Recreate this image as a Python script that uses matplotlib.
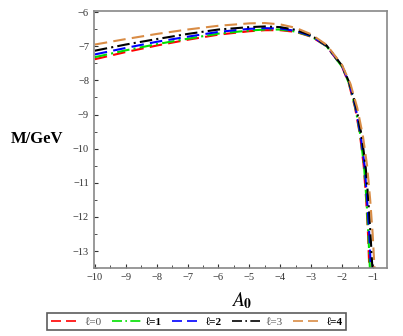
import matplotlib
matplotlib.use("Agg")
import matplotlib.pyplot as plt
from matplotlib.ticker import MultipleLocator

plt.rcParams['mathtext.fontset'] = 'stix'

# shared part of the curves
A_head = [-10, -9, -8, -7, -6, -5, -4.5, -4, -3.5, -3, -2.5, -2]
M_l0 = [-7.38, -7.17, -6.98, -6.81, -6.66, -6.56, -6.53, -6.53, -6.58, -6.72, -7.0, -7.6]
M_l1 = [-7.32, -7.12, -6.94, -6.78, -6.63, -6.54, -6.51, -6.51, -6.57, -6.71, -7.0, -7.6]
M_l2 = [-7.24, -7.05, -6.87, -6.72, -6.58, -6.49, -6.47, -6.48, -6.55, -6.70, -6.99, -7.58]
M_l3 = [-7.13, -6.95, -6.79, -6.64, -6.51, -6.44, -6.42, -6.44, -6.52, -6.68, -6.98, -7.57]
M_l4 = [-6.95, -6.79, -6.64, -6.51, -6.40, -6.33, -6.32, -6.36, -6.46, -6.65, -6.96, -7.55]

# steep tail: M values and the A0 where each curve reaches them
M_tail = [-8.1, -8.8, -9.6, -10.5, -11.5, -12.5, -13.5]
A_tail_l0 = [-1.78, -1.58, -1.42, -1.30, -1.22, -1.16, -1.12]
A_tail_l1 = [-1.77, -1.57, -1.41, -1.29, -1.21, -1.15, -1.10]
A_tail_l2 = [-1.76, -1.56, -1.40, -1.27, -1.19, -1.12, -1.07]
A_tail_l3 = [-1.75, -1.54, -1.37, -1.24, -1.15, -1.08, -1.02]
A_tail_l4 = [-1.73, -1.51, -1.33, -1.19, -1.09, -1.01, -0.95]

labels = ['ℓ=0', 'ℓ=1', 'ℓ=2', 'ℓ=3', 'ℓ=4']
bold = [False, True, True, False, True]

series = [
    (M_l0, A_tail_l0, 'red', (0, (6, 3))),
    (M_l1, A_tail_l1, '#00e000', (0, (6, 2, 1, 2))),
    (M_l2, A_tail_l2, 'blue', (0, (6, 3))),
    (M_l3, A_tail_l3, 'black', (0, (6, 2, 1, 2))),
    (M_l4, A_tail_l4, '#d98c45', (0, (6, 3))),
]

fig = plt.figure(figsize=(4.03, 3.36), dpi=100)
ax = fig.add_axes([0.233, 0.202, 0.727, 0.765])

for (m, a_tail, c, ls), lab in zip(series, labels):
    ax.plot(A_head + a_tail, m + M_tail, color=c, linestyle=ls, lw=1.5, label=lab)

ax.set_xlim(-10.03, -0.55)
ax.set_ylim(-13.5, -5.97)
ax.xaxis.set_major_locator(MultipleLocator(1))
ax.xaxis.set_minor_locator(MultipleLocator(0.5))
ax.yaxis.set_major_locator(MultipleLocator(1))
ax.yaxis.set_minor_locator(MultipleLocator(0.5))
ax.tick_params(which='both', direction='in', labelsize=7.5, colors='#333333', top=False, right=False)
ax.tick_params(which='major', length=3)
ax.tick_params(which='minor', length=2)
for t in ax.get_xticklabels() + ax.get_yticklabels():
    t.set_family(['Liberation Serif', 'DejaVu Serif'])
for s in ax.spines.values():
    s.set_color('#888888')
    s.set_linewidth(1.2)

fig.text(0.093, 0.585, 'M/GeV', fontsize=12, fontweight='bold',
         family=['Liberation Serif', 'DejaVu Serif'], ha='center', va='center')
fig.text(0.6, 0.105, r'$\mathbf{\mathit{A}_0}$', fontsize=14, ha='center', va='center')

h, l = ax.get_legend_handles_labels()
leg = fig.legend(h, l, loc='center', bbox_to_anchor=(0.488, 0.0425), ncol=5,
                 frameon=True, fancybox=False, edgecolor='#333333',
                 handlelength=2.6, handletextpad=0.45, columnspacing=0.9,
                 borderpad=0.3, borderaxespad=0,
                 prop={'family': ['Liberation Serif', 'DejaVu Serif'], 'size': 8})
leg.get_frame().set_linewidth(1.2)
for ln in leg.get_lines():
    ln.set_linewidth(1.2)
for t, b in zip(leg.get_texts(), bold):
    if b:
        t.set_fontweight('bold')
    else:
        t.set_color('#555555')

fig.savefig('out.png', dpi=100)
